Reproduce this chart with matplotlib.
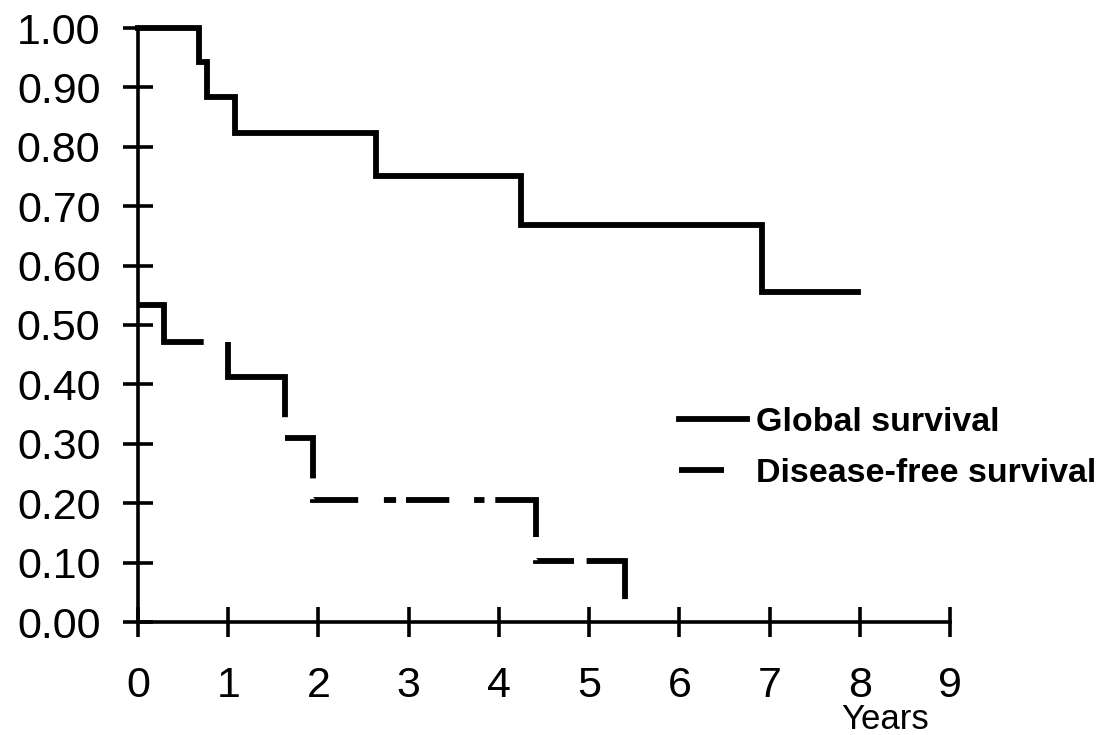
import numpy as np
import matplotlib
matplotlib.use('Agg')
import matplotlib.pyplot as plt
from matplotlib.lines import Line2D

plt.rcParams['font.family'] = ['Liberation Sans', 'DejaVu Sans']
plt.rcParams['lines.scale_dashes'] = False

# 数据: 时间(年) 和 生存率
gs_time = [0, 0.68, 0.77, 1.08, 2.64, 4.24, 6.92, 7.98]
gs_surv = [1.00, 0.943, 0.884, 0.823, 0.751, 0.668, 0.556, 0.556]

dfs_time = [0, 0.29, 1.00, 1.63, 1.94, 4.41, 5.40]
dfs_surv = [0.533, 0.471, 0.412, 0.309, 0.206, 0.103, 0.0]

x_ticks = np.arange(0, 10, 1)
y_ticks = np.arange(0, 1.01, 0.1)
y_labels = ['%.2f' % v for v in y_ticks]

labels = ['Global survival', 'Disease-free survival']

PX = 100 / 72.0  # 像素 -> 点
# 虚线的样式 (像素), 按原图测量
dfs_dash_px = [102.7, 24.3, 132.2, 20.8, 68.4, 20.8, 46.0, 25.7, 12.2, 9.9,
               43.3, 24.8, 10.4, 10.8, 77.7, 23.2, 38.8, 12.6, 76.5, 60]
dfs_dash = [d / PX for d in dfs_dash_px]

fig = plt.figure(figsize=(11.15, 7.35), dpi=100)
ax = fig.add_axes([138 / 1115, 1 - 622 / 735, 812 / 1115, 594 / 735])

ax.plot(gs_time, gs_surv, drawstyle='steps-post', color='k', lw=4.2,
        solid_joinstyle='miter', clip_on=False)
ax.plot(dfs_time, dfs_surv, drawstyle='steps-post', color='k', lw=4.2,
        linestyle=(0, dfs_dash), dash_joinstyle='miter', clip_on=False)

ax.set_xlim(0, 9)
ax.set_ylim(0, 1)
ax.set_xticks(x_ticks)
ax.set_yticks(y_ticks)
ax.set_yticklabels(y_labels)
for s in ['top', 'right']:
    ax.spines[s].set_visible(False)
for s in ['left', 'bottom']:
    ax.spines[s].set_linewidth(2.6)
ax.tick_params(direction='inout', length=21, width=2.6, labelsize=31)
ax.tick_params(axis='y', pad=16.5)
ax.tick_params(axis='x', pad=21)

ax.set_xlabel('Years', fontsize=25)
ax.xaxis.set_label_coords(0.92, -0.137)

# 图例
handles = [Line2D([], [], color='k', lw=4.2),
           Line2D([], [], color='k', lw=4.2,
                  linestyle=(0, (45 / PX, 24 / PX, 3 / PX, 100)))]
ax.legend(handles, labels, loc='center left',
          bbox_to_anchor=(679 / 1115, 1 - 448 / 735),
          bbox_transform=fig.transFigure, frameon=False,
          prop={'weight': 'bold', 'size': 24.5},
          handlelength=2.0, handletextpad=0.25, borderpad=0,
          borderaxespad=0, labelspacing=0.6)

fig.savefig('out.png', dpi=100)
